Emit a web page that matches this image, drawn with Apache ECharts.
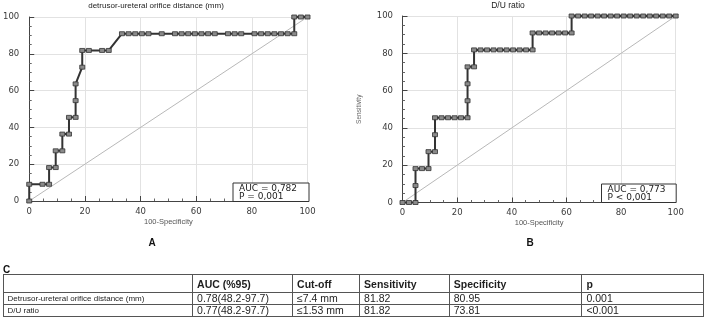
<!DOCTYPE html>
<html>
<head>
<meta charset="utf-8">
<script src="https://cdn.jsdelivr.net/npm/echarts@6/dist/echarts.min.js"></script>
<style>
  body { margin: 0; background: #fff; }
  #wrap { position: relative; width: 707px; height: 329px; }
  #chart { position: absolute; left: 0; top: 0; width: 707px; height: 329px; }
  #tbl {
    position: absolute; left: 2.5px; top: 274px;
    border-collapse: collapse; table-layout: fixed;
    font-family: "Liberation Sans", Arial, sans-serif; color: #1e1e1e;
  }
  #tbl td { border: 1px solid #555; padding: 0 0 0 4px; white-space: nowrap; overflow: hidden; }
  #tbl tr.h td { font-weight: bold; font-size: 10.5px; height: 17px; }
  #tbl tr.r td { font-size: 10.5px; height: 11px; line-height: 11px; }
  #tbl tr.r td.lab { font-size: 8px; }
</style>
</head>
<body>
<div id="wrap">
  <div id="chart"></div>
  <table id="tbl"></table>
</div>
<script>
// ROC A: detrusor-ureteral orifice distance (100-specificity, sensitivity)
const fprA = [0, 0, 4.76, 7.14, 7.14, 9.52, 9.52, 11.9, 11.9, 14.29, 14.29, 16.67, 16.67, 16.67,
  19.05, 19.05, 21.43, 26.19, 28.57, 33.33, 35.71, 38.1, 40.48, 42.86, 47.62, 52.38, 54.76, 57.14,
  59.52, 61.9, 64.29, 66.67, 71.43, 73.81, 76.19, 80.95, 83.33, 85.71, 88.1, 90.48, 92.86, 95.24,
  95.24, 97.62, 100]
const sensA = [0, 9.09, 9.09, 9.09, 18.18, 18.18, 27.27, 27.27, 36.36, 36.36, 45.45, 45.45, 54.55, 63.64,
  72.73, 81.82, 81.82, 81.82, 81.82, 90.91, 90.91, 90.91, 90.91, 90.91, 90.91, 90.91, 90.91, 90.91,
  90.91, 90.91, 90.91, 90.91, 90.91, 90.91, 90.91, 90.91, 90.91, 90.91, 90.91, 90.91, 90.91, 90.91,
  100, 100, 100]

// ROC B: D/U ratio
const fprB = [0, 2.38, 4.76, 4.76, 4.76, 7.14, 9.52, 9.52, 11.9, 11.9, 11.9, 14.29, 16.67, 19.05,
  21.43, 23.81, 23.81, 23.81, 23.81, 26.19, 26.19, 28.57, 30.95, 33.33, 35.71, 38.1, 40.48, 42.86,
  45.24, 47.62, 47.62, 50, 52.38, 54.76, 57.14, 59.52, 61.9, 61.9, 64.29, 66.67, 69.05, 71.43,
  73.81, 76.19, 78.57, 80.95, 83.33, 85.71, 88.1, 90.48, 92.86, 95.24, 97.62, 100]
const sensB = [0, 0, 0, 9.09, 18.18, 18.18, 18.18, 27.27, 27.27, 36.36, 45.45, 45.45, 45.45, 45.45,
  45.45, 45.45, 54.55, 63.64, 72.73, 72.73, 81.82, 81.82, 81.82, 81.82, 81.82, 81.82, 81.82, 81.82,
  81.82, 81.82, 90.91, 90.91, 90.91, 90.91, 90.91, 90.91, 90.91, 100, 100, 100, 100, 100,
  100, 100, 100, 100, 100, 100, 100, 100, 100, 100, 100, 100]

const diagonal = [[0, 0], [100, 100]]

// summary table
const tableHead = ['', 'AUC (%95)', 'Cut-off', 'Sensitivity', 'Specificity', 'p']
const tableRows = [
  ['Detrusor-ureteral orifice distance (mm)', '0.78(48.2-97.7)', '≤7.4 mm', '81.82', '80.95', '0.001'],
  ['D/U ratio', '0.77(48.2-97.7)', '≤1.53 mm', '81.82', '73.81', '<0.001']
]
const colWidths = [189.6, 100, 67, 89.7, 132.7, 121.6]

// build table
const tbl = document.getElementById('tbl')
let html = '<colgroup>' + colWidths.map(w => '<col style="width:' + w + 'px">').join('') + '</colgroup>'
html += '<tr class="h">' + tableHead.map(t => '<td>' + t + '</td>').join('') + '</tr>'
tableRows.forEach(r => {
  html += '<tr class="r">' + r.map((t, i) => '<td' + (i === 0 ? ' class="lab"' : '') + '>' +
    t.replace(/</g, '&lt;') + '</td>').join('') + '</tr>'
})
tbl.innerHTML = html

const zip = (xs, ys) => xs.map((x, i) => [x, ys[i]])

const labelFont = { color: '#3a3a3a', fontSize: 8.5, fontFamily: 'DejaVu Sans' }

// ticks point inward, MedCalc style
function xAxisOf(gridIndex, off) {
  return {
    gridIndex, type: 'value', min: 0, max: 100, interval: 20, offset: off,
    name: '100-Specificity', nameLocation: 'middle', nameGap: 13, nameMoveOverlap: false,
    nameTextStyle: { color: '#555', fontSize: 7.5, fontFamily: 'Liberation Sans' },
    axisLine: { show: true, lineStyle: { color: '#444', width: 1 } },
    axisTick: { show: true, inside: true, length: 5, lineStyle: { color: '#444' } },
    minorTick: { show: true, splitNumber: 4, length: 2.5, lineStyle: { color: '#666' } },
    axisLabel: Object.assign({ margin: 2 }, labelFont),
    splitLine: { show: true, lineStyle: { color: '#e2e2e2', width: 1 } }
  }
}
function yAxisOf(gridIndex, off, name, margin) {
  return {
    gridIndex, type: 'value', min: 0, max: 100, interval: 20, offset: off,
    name: name, nameLocation: 'middle', nameGap: 34, nameRotate: 90, nameMoveOverlap: false,
    nameTextStyle: { color: '#666', fontSize: 6.5, fontFamily: 'Liberation Sans' },
    axisLine: { show: true, lineStyle: { color: '#444', width: 1 } },
    axisTick: { show: true, inside: true, length: 5, lineStyle: { color: '#444' } },
    minorTick: { show: true, splitNumber: 4, length: 2.5, lineStyle: { color: '#666' } },
    axisLabel: Object.assign({ margin: margin }, labelFont),
    splitLine: { show: true, lineStyle: { color: '#e2e2e2', width: 1 } }
  }
}

function rocSeries(idx, data) {
  return {
    type: 'line', xAxisIndex: idx, yAxisIndex: idx, data: data, clip: false,
    symbol: 'rect', symbolSize: [5, 4], z: 3,
    lineStyle: { color: '#333', width: 2 },
    itemStyle: { color: '#8a8a8a', borderColor: '#333', borderWidth: 0.8 }
  }
}
function diagSeries(idx) {
  return {
    type: 'line', xAxisIndex: idx, yAxisIndex: idx, data: diagonal, symbol: 'none',
    lineStyle: { color: '#b8b8b8', width: 1 }, z: 2, silent: true
  }
}

function statBox(x, y, w, h, lines) {
  return {
    type: 'group', left: x, top: y, z: 10, children: [
      { type: 'rect', z: 10, shape: { x: 0, y: 0, width: w, height: h },
        style: { fill: '#fff', stroke: '#333', lineWidth: 1 } },
      { type: 'text', z: 11, x: 6, y: 5.5, style: { text: lines[0], fill: '#222', fontSize: 9, fontFamily: 'DejaVu Sans', verticalAlign: 'middle' } },
      { type: 'text', z: 11, x: 6, y: 13.3, style: { text: lines[1], fill: '#222', fontSize: 9, fontFamily: 'DejaVu Sans', verticalAlign: 'middle' } }
    ]
  }
}

const chart = echarts.init(document.getElementById('chart'))
chart.setOption({
  animation: false,
  grid: [
    { left: 29, top: 17, width: 278.5, height: 184 },
    { left: 402.5, top: 16, width: 273.2, height: 186.5 }
  ],
  xAxis: [xAxisOf(0, 4), xAxisOf(1, 3.5)],
  yAxis: [yAxisOf(0, 4, '', 6), yAxisOf(1, 5.5, 'Sensitivity', 4)],
  series: [
    diagSeries(0), rocSeries(0, zip(fprA, sensA)),
    diagSeries(1), rocSeries(1, zip(fprB, sensB))
  ],
  graphic: [
    { type: 'text', x: 156, y: 6, style: { text: 'detrusor-ureteral orifice distance (mm)', fill: '#222',
      fontSize: 8, fontFamily: 'Liberation Sans', align: 'center', verticalAlign: 'middle' } },
    { type: 'text', x: 508, y: 6, style: { text: 'D/U ratio', fill: '#222',
      fontSize: 8.5, fontFamily: 'Liberation Sans', align: 'center', verticalAlign: 'middle' } },
    statBox(232.5, 182.5, 76, 18.5, ['AUC = 0,782', 'P = 0,001']),
    statBox(601, 183.5, 74.7, 18.5, ['AUC = 0,773', 'P < 0,001']),
    { type: 'text', x: 152, y: 243, style: { text: 'A', fill: '#111', fontSize: 10, fontWeight: 'bold',
      fontFamily: 'Liberation Sans', align: 'center', verticalAlign: 'middle' } },
    { type: 'text', x: 530, y: 243, style: { text: 'B', fill: '#111', fontSize: 10, fontWeight: 'bold',
      fontFamily: 'Liberation Sans', align: 'center', verticalAlign: 'middle' } },
    { type: 'text', x: 3, y: 270, style: { text: 'C', fill: '#111', fontSize: 10, fontWeight: 'bold',
      fontFamily: 'Liberation Sans', align: 'left', verticalAlign: 'middle' } }
  ]
})
</script>
</body>
</html>
